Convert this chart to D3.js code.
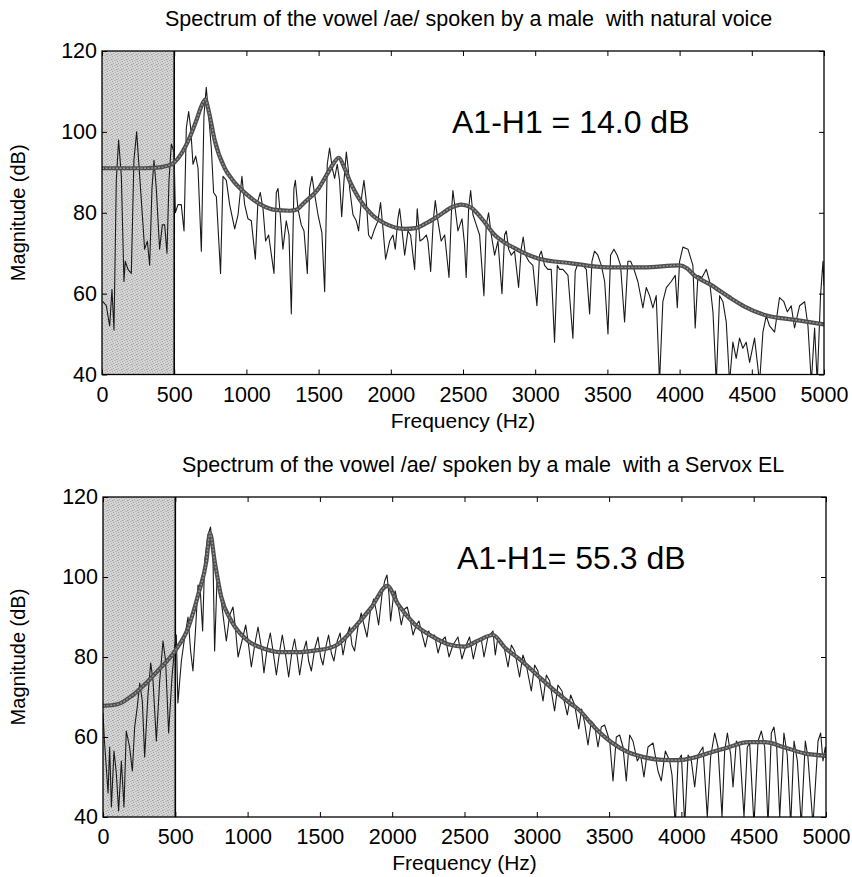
<!DOCTYPE html>
<html>
<head>
<meta charset="utf-8">
<script src="https://cdn.jsdelivr.net/npm/d3@7"></script>
<style>
  body { margin: 0; background: #fff; }
  svg { display: block; }
  text { font-family: "Liberation Sans", Arial, Helvetica, sans-serif; fill: #000; white-space: pre; }
</style>
</head>
<body>
<svg id="chart" width="852" height="877"></svg>
<script>
// ---------- DATA ----------
const xTicks = [0, 500, 1000, 1500, 2000, 2500, 3000, 3500, 4000, 4500, 5000];
const yTicks = [40, 60, 80, 100, 120];
const shadedBand = [0, 500];

const titles = [
  "Spectrum of the vowel /ae/ spoken by a male  with natural voice",
  "Spectrum of the vowel /ae/ spoken by a male  with a Servox EL"
];
const annotations = ["A1-H1 = 14.0 dB", "A1-H1= 55.3 dB"];

// Natural voice: harmonic spectrum [Hz, dB]
const naturalSpectrum = [
  [0,58],[7,58],[30,57],[53,52],[69,61],[83,51],[99,88],[115,98],[134,89],[152,63],[161,68],[180,66],[203,65],
  [221,93],[240,100],[261,89],[284,77],[295,71],[314,73],[330,67],[346,86],[360,93],[376,86],[399,71],[418,77],
  [434,77],[450,70],[464,88],[480,97],[499,95],[508,80],[526,82],[549,82],[568,75.5],[584,101],[600,105],[614,101],
  [630,92],[649,94],[665,91],[688,70.5],[706,104],[722,111],[739,104],[757,96],[773,85],[792,84],[821,65],[838,89],
  [861,88],[884,82],[919,76],[942,79.5],[969,89],[988,82],[1011,78.5],[1034,78],[1062,68.5],[1080,83],[1096,85],
  [1115,81],[1133,73],[1154,74.5],[1191,65],[1207,85],[1219,86],[1237,78.5],[1253,71],[1276,78],[1295,74.5],
  [1311,55],[1329,86],[1339,88],[1357,81],[1380,77],[1399,75.5],[1422,65],[1438,86],[1454,89],[1473,84.5],
  [1496,79.5],[1523,75],[1542,60.5],[1560,92],[1576,96],[1595,91],[1611,88.5],[1629,92],[1645,88],[1660,79],
  [1676,88],[1692,95],[1705,91],[1715,86],[1738,79.5],[1761,78],[1777,75.5],[1800,84.5],[1814,88],[1830,83],
  [1846,74.5],[1865,73.5],[1888,76],[1911,78],[1929,82.5],[1946,76],[1964,68.5],[1992,73],[2015,74.5],[2031,71],
  [2049,78.5],[2061,81],[2077,76],[2096,69.5],[2119,75.5],[2137,74.5],[2165,66],[2183,81],[2202,73],[2222,73.5],
  [2246,74.5],[2257,73],[2276,65.5],[2294,78],[2308,83],[2326,78],[2349,73],[2373,74.5],[2403,64],[2419,79.5],
  [2430,85.5],[2446,81],[2465,75.5],[2493,78.5],[2511,72],[2522,64],[2539,81],[2553,85.5],[2569,79.5],[2592,77],
  [2615,74.5],[2645,59.5],[2661,77],[2677,80],[2696,74.5],[2719,69.5],[2742,73],[2770,60],[2788,74.5],[2800,75.5],
  [2816,71],[2834,69.5],[2857,70.5],[2885,61.5],[2903,71],[2917,74],[2933,69.5],[2956,68],[2984,67],[3012,57],
  [3030,69.5],[3042,70.5],[3065,67],[3088,66],[3111,66],[3134,48],[3153,67],[3169,66],[3192,66],[3227,64.5],
  [3261,49],[3277,65.5],[3296,67.5],[3331,67],[3354,66],[3377,55],[3393,68],[3411,70.5],[3434,69.5],[3458,67],
  [3481,63],[3504,50],[3522,69.5],[3545,71],[3568,69.5],[3591,67],[3619,53],[3642,68],[3661,68],[3684,66],
  [3711,63],[3746,56.5],[3769,61.5],[3792,59.5],[3815,56.5],[3838,59.5],[3861,38],[3884,58],[3908,61.5],
  [3942,63],[3970,64.5],[3984,56.5],[4000,68],[4023,71.5],[4058,71],[4092,67],[4108,51.5],[4127,64.5],[4155,64],
  [4185,66],[4208,63],[4231,55.5],[4254,38],[4277,59.5],[4300,58],[4323,53],[4346,38],[4369,48],[4392,44],
  [4415,49],[4438,46.5],[4461,48],[4485,43],[4519,49],[4554,38],[4577,50.5],[4600,54.5],[4623,52],[4658,50.5],
  [4692,59],[4722,58],[4746,55.5],[4773,57],[4796,51.5],[4831,57],[4866,58],[4889,52],[4912,38],[4935,51.5],
  [4953,38],[4976,59.5],[4993,68],[5000,62]
];

// Natural voice: smooth envelope [Hz, dB]
const naturalEnvelope = [
  [0,91],[100,91],[200,91],[300,91],[400,91.2],[450,91.6],[500,92.4],[550,94.6],[600,98],[650,102.5],[690,106.5],
  [715,108],[740,105],[780,98],[850,91],[900,88.3],[1000,84.6],[1100,82],[1200,80.7],[1300,80.5],[1350,80.8],
  [1400,82.5],[1500,86],[1550,89],[1600,92],[1640,93.6],[1680,91],[1720,87.5],[1780,83.5],[1870,79.5],[1980,77],
  [2100,76],[2170,76.2],[2250,77.5],[2330,79.2],[2420,81.3],[2490,82],[2560,81.2],[2620,79],[2720,74.5],
  [2860,71.2],[3020,68.7],[3250,67.5],[3500,66.5],[3750,66.5],[4000,67],[4050,66.3],[4100,64.6],[4220,62.1],
  [4340,59.2],[4450,56.8],[4590,54.7],[4800,53.5],[5000,52.4]
];

// Servox EL: harmonic spectrum [Hz, dB]
const servoxSpectrum = [
  [0,66],[10,59],[35,46],[46,57.5],[58,42.5],[76,56.5],[92,51],[108,41.5],[127,54],[145,42.5],[161,61.5],
  [184,57.5],[203,51.5],[219,62.5],[237,67.5],[254,73.5],[272,69],[288,55],[311,70.5],[330,78.5],[346,74],
  [369,59],[392,74],[415,84],[433,79],[454,61],[477,75],[496,82.5],[507,85.5],[518,68.5],[542,79],[565,85],
  [588,90],[606,81.5],[622,76.5],[641,87.5],[657,98],[673,96.5],[689,86.5],[703,104],[726,110.5],[744,112.5],
  [761,104],[772,81.5],[788,99],[804,97.5],[823,92.5],[853,84],[876,90.5],[899,92.5],[915,87.5],[934,80],
  [961,84],[987,88],[1003,84],[1026,77.5],[1049,83],[1072,87.5],[1095,82.5],[1113,76],[1136,82.5],[1157,86],
  [1176,81.5],[1199,75.5],[1222,81.5],[1240,85.5],[1261,81],[1284,75],[1307,81.5],[1325,84.5],[1344,80],
  [1360,75.5],[1383,81],[1406,84],[1422,79],[1441,76.5],[1464,82],[1487,85],[1505,80],[1521,78],[1544,83],
  [1560,85.5],[1579,81],[1597,79],[1620,84],[1640,86],[1660,80.5],[1683,85],[1706,87.5],[1722,83],[1740,81.5],
  [1763,87.5],[1786,91],[1805,88],[1826,85],[1849,91.5],[1872,94.5],[1890,91.5],[1906,88],[1929,95.5],[1948,99],
  [1964,100.5],[1978,95.5],[1989,89],[2008,95],[2021,96.5],[2040,93],[2063,88],[2086,92],[2104,92.5],[2121,90],
  [2144,85.5],[2167,88],[2185,89],[2201,86.5],[2229,82.5],[2252,86.5],[2270,85],[2293,85.5],[2317,81],[2340,84],
  [2367,85],[2393,80],[2420,83],[2455,85],[2482,79.5],[2512,83],[2535,85],[2561,79.5],[2588,84],[2616,84.5],
  [2635,80],[2662,85],[2697,86.5],[2713,80.5],[2727,84],[2743,84.5],[2771,83],[2801,77.5],[2824,83],[2847,81.5],
  [2881,75],[2904,80.5],[2927,78],[2962,71.5],[2985,78],[3008,76.5],[3043,69],[3066,75.5],[3089,74],[3123,66.5],
  [3146,73],[3174,71.5],[3211,65.5],[3234,70.5],[3262,68],[3290,62],[3310,67],[3331,63.5],[3354,58],[3377,64],
  [3400,63],[3423,57.5],[3446,62.5],[3469,63],[3504,59],[3527,49],[3550,60],[3573,60.5],[3596,57.5],[3619,49],
  [3642,60.5],[3665,59],[3695,54],[3718,55.5],[3741,50],[3769,57.5],[3804,58.5],[3838,51.5],[3861,49],[3889,56.5],
  [3919,54],[3935,50.5],[3958,38],[3977,54],[4000,55.5],[4023,38],[4046,55.5],[4069,54],[4092,47.5],[4115,55.5],
  [4149,57.5],[4179,40],[4202,55],[4230,61],[4253,57.5],[4281,40],[4299,56.5],[4318,61],[4341,55.5],[4357,47.5],
  [4380,59],[4403,57.5],[4433,40],[4456,57.5],[4472,58.5],[4502,38],[4530,59],[4553,61.5],[4576,57.5],[4599,38],
  [4622,61],[4640,62.5],[4659,57.5],[4680,40],[4709,61],[4732,55.5],[4756,38],[4779,59],[4802,54],[4829,38],
  [4857,59],[4875,55],[4910,38],[4945,59],[4963,61],[4979,54],[4995,57.5],[5000,56]
];

// Servox EL: smooth envelope [Hz, dB]
const servoxEnvelope = [
  [0,67.8],[100,68.2],[200,70.3],[290,73.2],[380,76.6],[500,81.6],[590,87.4],[660,95.8],[715,104],[740,111],
  [772,104],[818,95],[888,89],[1000,84.1],[1120,82],[1230,81.2],[1350,81.2],[1460,81.6],[1580,82.4],[1625,83.2],
  [1740,87.4],[1856,92.4],[1966,97.8],[2040,93.2],[2155,88.2],[2270,85.3],[2386,83.2],[2500,82.6],[2593,84.1],
  [2697,85.5],[2778,82.4],[2893,79.1],[3008,75.3],[3123,71.6],[3239,68.2],[3285,67],[3400,62.4],[3516,58.7],
  [3631,56.2],[3746,54.9],[3861,54.3],[3977,54.2],[4092,54.9],[4207,56.2],[4322,57.4],[4461,58.7],[4576,58.7],
  [4714,57.4],[4852,55.9],[5000,55.3]
];

// ---------- DRAWING ----------
const svg = d3.select("#chart");
svg.append("rect").attr("width", 852).attr("height", 877).attr("fill", "#fff");

const defs = svg.append("defs");
const pat = defs.append("pattern").attr("id", "stipple").attr("width", 5).attr("height", 5)
  .attr("patternUnits", "userSpaceOnUse");
pat.append("rect").attr("width", 5).attr("height", 5).attr("fill", "#d4d4d4");
[[0,0,"#a0a0a0"],[3,1,"#b2b2b2"],[1,2,"#a8a8a8"],[4,3,"#9c9c9c"],[2,4,"#b4b4b4"],[0,3,"#bcbcbc"],[3,4,"#c0c0c0"]]
  .forEach(([px, py, c]) => pat.append("rect").attr("x", px).attr("y", py).attr("width", 1).attr("height", 1).attr("fill", c));

const panels = [
  { left: 102, right: 824, top: 51, bottom: 374.5, spectrum: naturalSpectrum, envelope: naturalEnvelope,
    title: titles[0], titleX: 165, note: annotations[0], noteX: 452, noteY: 133 },
  { left: 103, right: 826, top: 497, bottom: 817, spectrum: servoxSpectrum, envelope: servoxEnvelope,
    title: titles[1], titleX: 182, note: annotations[1], noteX: 457, noteY: 569 }
];

panels.forEach((p, i) => {
  const w = p.right - p.left, h = p.bottom - p.top;
  const x = d3.scaleLinear().domain([0, 5000]).range([0, w]);
  const y = d3.scaleLinear().domain([40, 120]).range([h, 0]);
  const g = svg.append("g").attr("transform", `translate(${p.left},${p.top})`);

  defs.append("clipPath").attr("id", "clip" + i)
    .append("rect").attr("width", w).attr("height", h);

  // shaded band
  g.append("rect")
    .attr("x", x(shadedBand[0])).attr("y", 0)
    .attr("width", x(shadedBand[1]) - x(shadedBand[0])).attr("height", h)
    .attr("fill", "url(#stipple)");
  g.append("line")
    .attr("x1", x(shadedBand[1])).attr("x2", x(shadedBand[1]))
    .attr("y1", 0).attr("y2", h)
    .attr("stroke", "#000").attr("stroke-width", 1.6);

  const plot = g.append("g").attr("clip-path", `url(#clip${i})`);

  const thin = d3.line().x(d => x(d[0])).y(d => y(d[1]));
  plot.append("path").datum(p.spectrum)
    .attr("d", thin).attr("fill", "none")
    .attr("stroke", "#1a1a1a").attr("stroke-width", 1.1).attr("stroke-linejoin", "round");

  const smooth = d3.line().x(d => x(d[0])).y(d => y(d[1])).curve(d3.curveMonotoneX);
  plot.append("path").datum(p.envelope)
    .attr("d", smooth).attr("fill", "none")
    .attr("stroke", "#4e4e4e").attr("stroke-width", 4.2).attr("stroke-linejoin", "round");
  plot.append("path").datum(p.envelope)
    .attr("d", smooth).attr("fill", "none")
    .attr("stroke", "#949494").attr("stroke-width", 1.4).attr("stroke-dasharray", "2,1.5");

  // axes (inward ticks)
  const fs = "21.5px";
  const ax = g.append("g").attr("transform", `translate(0,${h})`)
    .call(d3.axisBottom(x).tickValues(xTicks).tickSizeInner(-5).tickSizeOuter(0).tickPadding(12).tickFormat(d3.format("d")));
  ax.select(".domain").remove();
  ax.selectAll("text").style("font-size", fs).style("font-family", '"Liberation Sans", Arial, sans-serif');

  const axT = g.append("g")
    .call(d3.axisTop(x).tickValues(xTicks).tickSizeInner(-5).tickSizeOuter(0).tickFormat(""));
  axT.select(".domain").remove();

  const ay = g.append("g")
    .call(d3.axisLeft(y).tickValues(yTicks).tickSizeInner(-5).tickSizeOuter(0).tickPadding(5).tickFormat(d3.format("d")));
  ay.select(".domain").remove();
  ay.selectAll("text").style("font-size", fs).style("font-family", '"Liberation Sans", Arial, sans-serif');

  const ayR = g.append("g").attr("transform", `translate(${w},0)`)
    .call(d3.axisRight(y).tickValues(yTicks).tickSizeInner(-5).tickSizeOuter(0).tickFormat(""));
  ayR.select(".domain").remove();

  g.selectAll(".tick line").attr("stroke", "#000");

  // frame
  g.append("rect").attr("width", w).attr("height", h)
    .attr("fill", "none").attr("stroke", "#000").attr("stroke-width", 1.3);

  // title
  svg.append("text")
    .attr("x", p.titleX).attr("y", p.top - 25)
    .attr("text-anchor", "start").style("font-size", "21.5px")
    .attr("xml:space", "preserve")
    .text(p.title);

  // x label
  svg.append("text")
    .attr("x", (p.left + p.right) / 2).attr("y", p.bottom + 53)
    .attr("text-anchor", "middle").style("font-size", "21px")
    .text("Frequency (Hz)");

  // y label
  svg.append("text")
    .attr("transform", `translate(25,${(p.top + p.bottom) / 2}) rotate(-90)`)
    .attr("text-anchor", "middle").style("font-size", "20px")
    .text("Magnitude (dB)");

  // annotation
  svg.append("text")
    .attr("x", p.noteX).attr("y", p.noteY)
    .style("font-size", "32px")
    .text(p.note);
});
</script>
</body>
</html>
